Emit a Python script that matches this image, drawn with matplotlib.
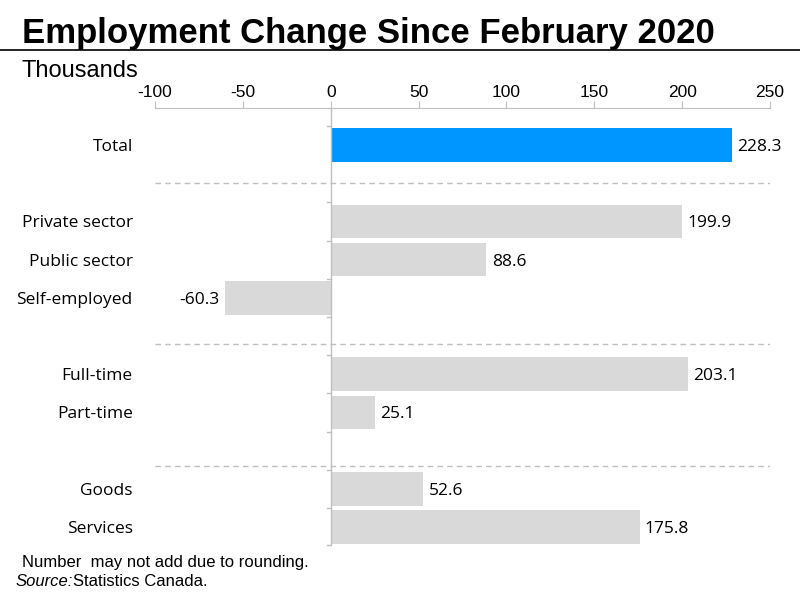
import matplotlib
matplotlib.use("Agg")
import matplotlib.pyplot as plt

categories = ["Total", "Private sector", "Public sector", "Self-employed",
              "Full-time", "Part-time", "Goods", "Services"]
values = [228.3, 199.9, 88.6, -60.3, 203.1, 25.1, 52.6, 175.8]
slots = [0, 2, 3, 4, 6, 7, 9, 10]
separators = [1, 5.2, 8.4]
xticks = [-100, -50, 0, 50, 100, 150, 200, 250]

fig = plt.figure(figsize=(8, 6), dpi=100)
ax = fig.add_axes([155/800, 1-545/600, 615/800, 437/600])
colors = ["#0096FF"] + ["#D9D9D9"] * (len(values) - 1)
ax.barh(slots, values, height=0.88, color=colors)
for s, v in zip(slots, values):
    if v >= 0:
        ax.text(v + 3, s + 0.05, f"{v:.1f}", va="center", ha="left", fontsize=12.5, family="Open Sans")
    else:
        ax.text(v - 3, s + 0.05, f"{v:.1f}", va="center", ha="right", fontsize=12.5, family="Open Sans")
for y in separators:
    ax.axhline(y, color="#BFBFBF", ls=(0, (4, 3)), lw=1)
ax.set_xlim(-100, 250)
ax.set_ylim(10.47, -0.97)
ax.xaxis.tick_top()
ax.set_xticks(xticks)
ax.set_xticklabels([str(t) for t in xticks], fontsize=12.5, family="Liberation Sans")
ax.tick_params(axis="x", length=5, color="#BFBFBF", pad=1)
ax.set_yticks(slots)
ax.set_yticklabels(categories, fontsize=12.5, family="Open Sans")
ax.tick_params(axis="y", length=0, pad=16)
for sp in ["right", "bottom", "left"]:
    ax.spines[sp].set_visible(False)
ax.spines["top"].set_color("#BFBFBF")
ax.axvline(0, color="#BFBFBF", lw=1)
for y in [-0.5, 1.5, 2.5, 3.5, 4.5, 5.5, 6.5, 7.5, 8.5, 9.5, 10.47]:
    ax.plot([-2, 0], [y, y], color="#BFBFBF", lw=1, clip_on=False)

fig.text(22/800, 1-33/600, "Employment Change Since February 2020", fontsize=25,
         fontweight="bold", family="Liberation Sans", va="center")
fig.add_artist(plt.Line2D([0, 1], [1-50/600, 1-50/600], color="black", lw=1.2))
fig.text(22/800, 1-71/600, "Thousands", fontsize=17, family="Liberation Sans", va="center")
fig.text(22/800, 1-563/600, "Number  may not add due to rounding.", fontsize=12,
         family="Liberation Sans", va="center")
fig.text(16/800, 1-582/600, "Source:", fontsize=12, style="italic",
         family="Liberation Sans", va="center")
fig.text(73/800, 1-582/600, "Statistics Canada.", fontsize=12,
         family="Liberation Sans", va="center")
fig.savefig("out.png")
